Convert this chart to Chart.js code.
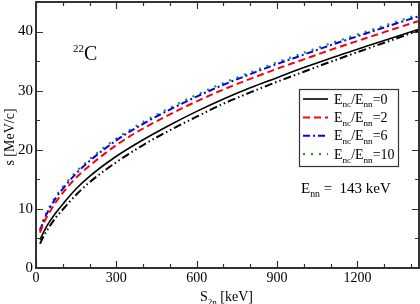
<!DOCTYPE html>
<html><head><meta charset="utf-8">
<script src="https://cdn.jsdelivr.net/npm/chart.js@4/dist/chart.umd.min.js"></script>
<style>html,body{margin:0;padding:0;background:#fff}</style>
</head><body>
<canvas id="c" width="420" height="304"></canvas>
<script>
// ---- data ----
const s2n      = [15, 30, 50, 75, 100, 150, 200, 300, 400, 500, 600, 700, 800, 900, 1000, 1100, 1200, 1300, 1430];
const sRatio0  = [4.8, 6.2, 7.8, 9.4, 10.8, 13.4, 15.5, 18.9, 21.7, 24.2, 26.5, 28.6, 30.5, 32.2, 33.9, 35.5, 37.0, 38.5, 40.4];
const sRatio0b = [4.1, 5.5, 7.0, 8.6, 9.9, 12.4, 14.5, 17.9, 20.8, 23.3, 25.6, 27.8, 29.7, 31.5, 33.2, 34.9, 36.5, 38.1, 40.2];
const sRatio2  = [6.0, 7.7, 9.4, 11.2, 12.7, 15.3, 17.3, 20.8, 23.6, 26.0, 28.2, 30.2, 32.0, 33.7, 35.3, 36.9, 38.4, 39.9, 41.8];
const sRatio6  = [6.3, 8.2, 10.0, 11.9, 13.4, 16.0, 18.1, 21.6, 24.4, 26.8, 29.0, 31.0, 32.8, 34.5, 36.1, 37.7, 39.2, 40.7, 42.6];
const sRatio10 = [6.5, 8.4, 10.3, 12.2, 13.7, 16.3, 18.4, 21.9, 24.7, 27.1, 29.3, 31.3, 33.1, 34.8, 36.4, 38.0, 39.5, 41.0, 42.9];
const legendLabels = ['E_{nc}/E_{nn}=0', 'E_{nc}/E_{nn}=2', 'E_{nc}/E_{nn}=6', 'E_{nc}/E_{nn}=10'];
const xTicks = [0, 300, 600, 900, 1200];
const xMinor = [100, 200, 400, 500, 700, 800, 1000, 1100, 1300, 1400];
const yTicks = [0, 10, 20, 30, 40];
const yMinor = [5, 15, 25, 35];
const xTitle = 'S_{2n} [keV]';
const yTitle = 's [MeV/c]';
const nucleusLabel = '^{22}C';
const ennLabel = 'E_{nn} =  143 keV';

const FONT = '"Liberation Serif", "DejaVu Serif", serif';

function pts(arr) { return s2n.map((x, i) => ({x: x, y: arr[i]})); }

const styles = [
  {color: '#000000', dash: [8, 3, 1.5, 3, 1.5, 3], width: 2},
  {color: '#000000', dash: [], width: 1.6},
  {color: '#ff0000', dash: [7, 4], width: 2},
  {color: '#0000ff', dash: [7, 3, 2, 3], width: 2},
  {color: '#1f9a1f', dash: [2, 6], width: 2.2}
];
const series = [sRatio0b, sRatio0, sRatio2, sRatio6, sRatio10];
const legendIdx = [1, 2, 3, 4];

function parseRich(s) {
  const parts = []; const re = /(_|\^)\{([^}]*)\}/g; let last = 0, m;
  while ((m = re.exec(s)) !== null) {
    if (m.index > last) parts.push({t: s.slice(last, m.index), k: ''});
    parts.push({t: m[2], k: m[1] === '_' ? 'sub' : 'sup'});
    last = re.lastIndex;
  }
  if (last < s.length) parts.push({t: s.slice(last), k: ''});
  return parts;
}
function richWidth(ctx, parts, size, small) {
  let w = 0;
  parts.forEach(p => { ctx.font = (p.k ? size * small : size) + 'px ' + FONT; w += ctx.measureText(p.t).width; });
  return w;
}
function drawRich(ctx, s, x, y, size, align, small) {
  small = small || 0.65;
  const parts = parseRich(s);
  const w = richWidth(ctx, parts, size, small);
  let cx = align === 'center' ? x - w / 2 : (align === 'right' ? x - w : x);
  ctx.textBaseline = 'alphabetic'; ctx.textAlign = 'left'; ctx.fillStyle = '#000';
  parts.forEach(p => {
    const fs = p.k ? size * small : size;
    ctx.font = fs + 'px ' + FONT;
    let dy = 0;
    if (p.k === 'sub') dy = size * 0.28;
    if (p.k === 'sup') dy = -size * 0.42;
    ctx.fillText(p.t, cx, y + dy);
    cx += ctx.measureText(p.t).width;
  });
}

const decor = {
  id: 'decor',
  afterDraw(chart) {
    const ctx = chart.ctx, a = chart.chartArea;
    const xs = chart.scales.x, ys = chart.scales.y;
    ctx.save();
    // frame
    ctx.strokeStyle = '#333'; ctx.lineWidth = 2;
    ctx.strokeRect(a.left, a.top, a.right - a.left, a.bottom - a.top);
    // ticks (inward, all sides)
    ctx.lineWidth = 1.2;
    ctx.beginPath();
    const tx = (v, len) => { const p = Math.round(xs.getPixelForValue(v)) + 0.5;
      ctx.moveTo(p, a.bottom); ctx.lineTo(p, a.bottom - len);
      ctx.moveTo(p, a.top); ctx.lineTo(p, a.top + len); };
    const ty = (v, len) => { const p = Math.round(ys.getPixelForValue(v)) + 0.5;
      ctx.moveTo(a.left, p); ctx.lineTo(a.left + len, p);
      ctx.moveTo(a.right, p); ctx.lineTo(a.right - len, p); };
    xTicks.forEach(v => tx(v, 7)); xMinor.forEach(v => tx(v, 4));
    yTicks.forEach(v => ty(v, 7)); yMinor.forEach(v => ty(v, 4));
    ctx.stroke();
    // axis titles
    drawRich(ctx, xTitle, (a.left + a.right) / 2 - 1, 301, 14, 'center');
    ctx.save(); ctx.translate(14, 137); ctx.rotate(-Math.PI / 2);
    drawRich(ctx, yTitle, 0, 0, 14, 'center'); ctx.restore();
    // annotations
    drawRich(ctx, nucleusLabel, 73, 60, 20, 'left', 0.55);
    drawRich(ctx, ennLabel, 301, 193, 15, 'left');
    // legend
    const bx = 299, by = 89, bw = 99, bh = 77;
    ctx.fillStyle = '#fff'; ctx.fillRect(bx, by, bw, bh);
    ctx.strokeStyle = '#333'; ctx.lineWidth = 1.2; ctx.strokeRect(bx + 0.5, by + 0.5, bw, bh);
    legendIdx.forEach((di, i) => {
      const yy = by + 10 + i * 18.4;
      const st = styles[di];
      ctx.strokeStyle = st.color; ctx.lineWidth = st.width; ctx.setLineDash(st.dash);
      ctx.beginPath(); ctx.moveTo(303, yy); ctx.lineTo(328, yy); ctx.stroke();
      ctx.setLineDash([]);
      drawRich(ctx, legendLabels[i], 334, yy + 4.5, 14, 'left');
    });
    ctx.restore();
  }
};

new Chart(document.getElementById('c'), {
  type: 'scatter',
  data: {
    datasets: series.map((arr, i) => ({
      data: pts(arr), showLine: true, fill: false,
      borderColor: styles[i].color, borderWidth: styles[i].width, borderDash: styles[i].dash,
      pointRadius: 0, cubicInterpolationMode: 'monotone'
    }))
  },
  options: {
    responsive: false, animation: false, events: [],
    layout: {padding: {top: 2, right: 1, left: 0, bottom: 0}},
    plugins: {legend: {display: false}, tooltip: {enabled: false}},
    scales: {
      x: {
        type: 'linear', min: 0, max: 1430,
        grid: {display: false, drawTicks: false, tickLength: 0}, border: {display: false},
        ticks: {font: {family: FONT, size: 14}, color: '#000', padding: 2, maxRotation: 0, autoSkip: false,
                callback: v => String(v)},
        afterBuildTicks: s => { s.ticks = xTicks.map(v => ({value: v})); },
        afterFit: s => { s.height = 36; s.paddingLeft = 0; s.paddingRight = 0; }
      },
      y: {
        type: 'linear', min: 0, max: 45,
        grid: {display: false, drawTicks: false, tickLength: 0}, border: {display: false},
        ticks: {font: {family: FONT, size: 15}, color: '#000', padding: 3, autoSkip: false,
                callback: v => String(v)},
        afterBuildTicks: s => { s.ticks = yTicks.map(v => ({value: v})); },
        afterFit: s => { s.width = 36; s.paddingTop = 0; s.paddingBottom = 0; }
      }
    }
  },
  plugins: [decor]
});
</script>
</body></html>
